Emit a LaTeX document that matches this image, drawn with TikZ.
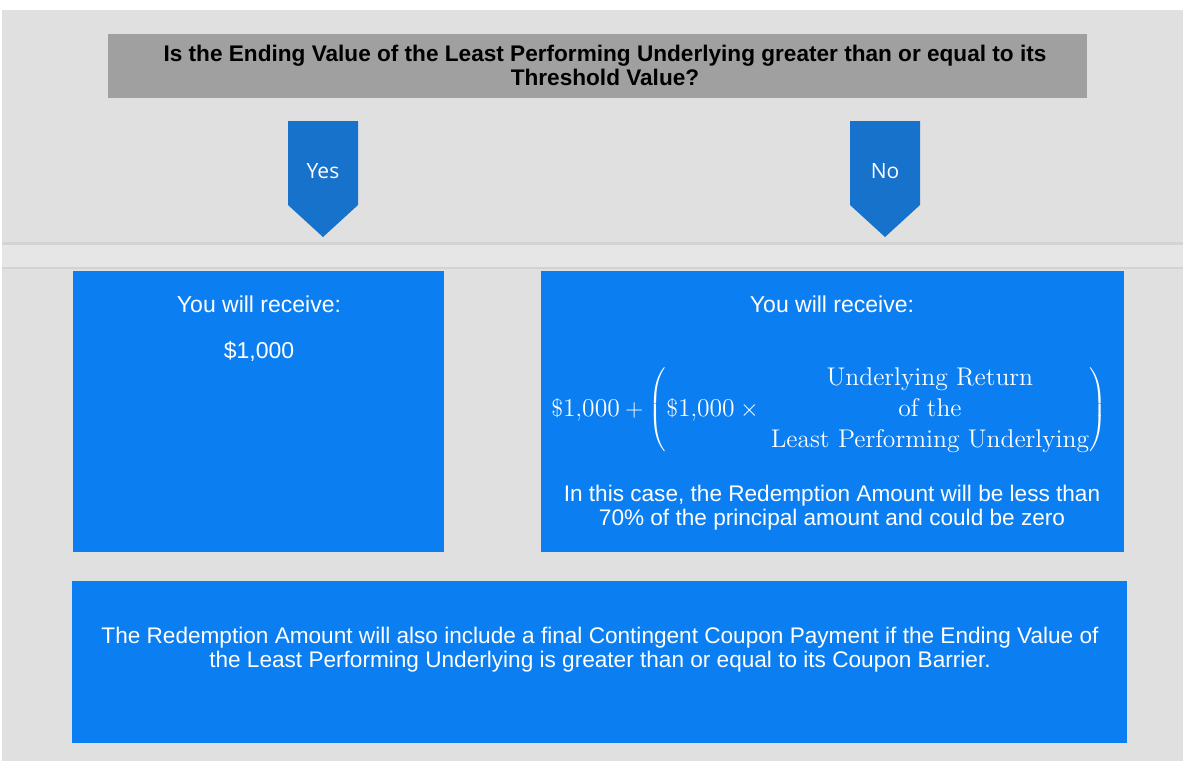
\documentclass[tikz,border=0pt]{standalone}
\usepackage{fontspec}
\newfontfamily\arialfont{Liberation Sans}
\newfontfamily\segoefont{Open Sans}
\usetikzlibrary{positioning}
\definecolor{pagegrey}{HTML}{E0E0E0}
\definecolor{bandgrey}{HTML}{E6E6E6}
\definecolor{edgegrey}{HTML}{D3D3D3}
\definecolor{qgrey}{HTML}{A0A0A0}
\definecolor{boxblue}{HTML}{0B7FF2}
\definecolor{arrowblue}{HTML}{1772CC}

\begin{document}
\begin{tikzpicture}[x=0.5pt,y=-0.5pt,
  txt/.style={text=white, align=center, inner sep=0pt, font=\arialfont\fontsize{11.3}{12}\selectfont},
  head/.style={txt, font=\arialfont\fontsize{11.5}{13}\selectfont},
  tag/.style={text=white, inner sep=0pt, font=\segoefont\fontsize{10.5}{12}\selectfont}]
\useasboundingbox (0,0) rectangle (1183,761);
\fill[white] (0,0) rectangle (1183,761);
\fill[pagegrey] (2,10) rectangle (1183,761);
% band under the arrows
\fill[bandgrey] (2,243) rectangle (1183,268);
\draw[edgegrey, line width=1.5pt] (2,243) -- (1183,243);
\draw[edgegrey, line width=0.8pt] (2,268) -- (1183,268);

% question
\fill[qgrey] (108,34) rectangle (1087,98);
\node[align=center, inner sep=0pt, font=\arialfont\bfseries\fontsize{11.3}{12}\selectfont] (q) at (605,65)
  {Is the Ending Value of the Least Performing Underlying greater than or equal to its\\Threshold Value?};

% yes / no arrows
\foreach \x/\t in {323/Yes,885/No}{
  \fill[arrowblue] (\x-35,121) -- (\x+35,121) -- (\x+35,205) -- (\x,237) -- (\x-35,205) -- cycle;
  \node[tag] (\t) at (\x,171) {\t};
}

% outcomes
\fill[boxblue] (73,271) rectangle (444,552);
\fill[boxblue] (541,271) rectangle (1124,552);
\fill[boxblue] (72,581) rectangle (1127,743);

\node[head] (rec1) at (259,304) {You will receive:};
\node[head, below=14pt of rec1] (pay1) {\$1,000};

\node[head] (rec2) at (832,304) {You will receive:};
\node[text=white, anchor=west, inner sep=0pt, font=\fontsize{12.8}{15.5}\selectfont] (pay2) at (551,410)
  {$\mathrm{\$1{,}000}+\left(\mathrm{\$1{,}000}\times\;\begin{tabular}{@{}c@{}}Underlying Return\\of the\\Least Performing Underlying\end{tabular}\right)$};
\node[txt] (less) at (832,508)
  {In this case, the Redemption Amount will be less than\\70\% of the principal amount and could be zero};

\node[txt] (note) at (600,650)
  {The Redemption Amount will also include a final Contingent Coupon Payment if the Ending Value of\\the Least Performing Underlying is greater than or equal to its Coupon Barrier.};
\end{tikzpicture}
\end{document}
